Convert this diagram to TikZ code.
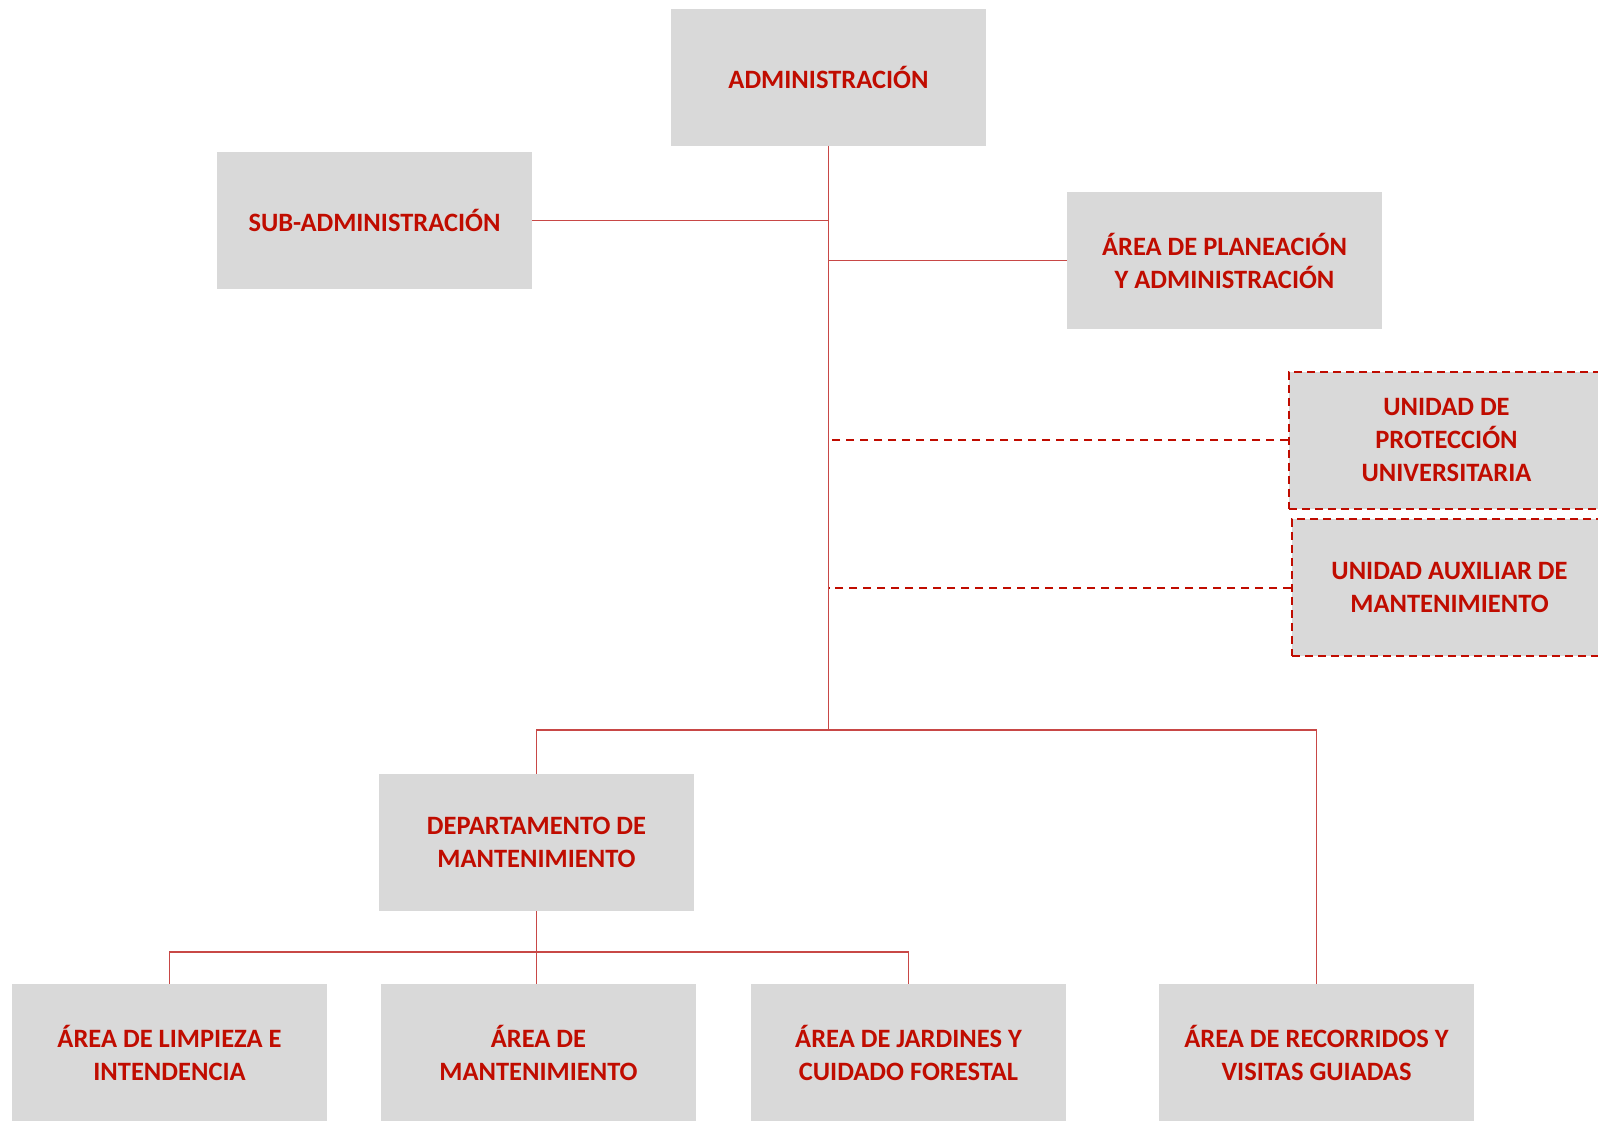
\documentclass[tikz,border=0pt]{standalone}
\usepackage{fontspec}
\setmainfont{Carlito}
\usetikzlibrary{positioning,calc}
\definecolor{txtred}{RGB}{192,12,0}
\definecolor{linered}{RGB}{200,72,70}
\definecolor{boxgray}{RGB}{217,217,217}

\begin{document}
\begin{tikzpicture}[
  x=1pt, y=-1pt,
  unit/.style={fill=boxgray, text=txtred, font=\fontsize{26.5}{33}\selectfont\bfseries, align=center, minimum width=315pt, minimum height=137pt, inner sep=0pt},
  dunit/.style={unit, draw=txtred, line width=2pt, dash pattern=on 8pt off 5pt},
  link/.style={draw=linered, line width=1.8pt},
  dlink/.style={draw=txtred, line width=2pt, dash pattern=on 8pt off 6pt}
]
\useasboundingbox (0,0) rectangle (1598,1120);
\clip (0,0) rectangle (1598,1120);
% cabeza y staff
\node[unit] (adm) at (828.5,77) {ADMINISTRACIÓN};
\node[unit] (sub) at (374.5,220.5) {SUB-ADMINISTRACIÓN};
\node[unit] (plan) at (1224.5,260.5) {ÁREA DE PLANEACIÓN\\Y ADMINISTRACIÓN};
\node[dunit] (prot) at (1446.5,440) {UNIDAD DE\\PROTECCIÓN\\UNIVERSITARIA};
\node[dunit] (aux) at (1449.5,587.5) {UNIDAD AUXILIAR DE\\MANTENIMIENTO};
% departamento y areas operativas
\node[unit] (dep) at (536.5,842.5) {DEPARTAMENTO DE\\MANTENIMIENTO};
\node[unit] (limp) at (169.5,1052.5) {ÁREA DE LIMPIEZA E\\INTENDENCIA};
\node[unit] (mant) at (538.5,1052.5) {ÁREA DE\\MANTENIMIENTO};
\node[unit] (jard) at (908.5,1052.5) {ÁREA DE JARDINES Y\\CUIDADO FORESTAL};
\node[unit] (reco) at (1316.5,1052.5) {ÁREA DE RECORRIDOS Y\\VISITAS GUIADAS};
\coordinate (bus) at (adm.south |- 0,730);
\coordinate (bus2) at (dep.south |- 0,952);
% lineas
\draw[link] (adm.south) -- (bus);
\draw[link] (sub.east) -- (sub.east -| adm.south);
\draw[link] (plan.west) -- (plan.west -| adm.south);
\draw[dlink] (prot.west) -- (prot.west -| adm.south);
\draw[dlink] (aux.west) -- (aux.west -| adm.south);
\draw[link] (dep.north) |- (bus -| reco.north) -- (reco.north);
\draw[link] (dep.south) -- (dep.south |- mant.north);
\draw[link] (limp.north) |- (bus2 -| jard.north) -- (jard.north);
\end{tikzpicture}
\end{document}
